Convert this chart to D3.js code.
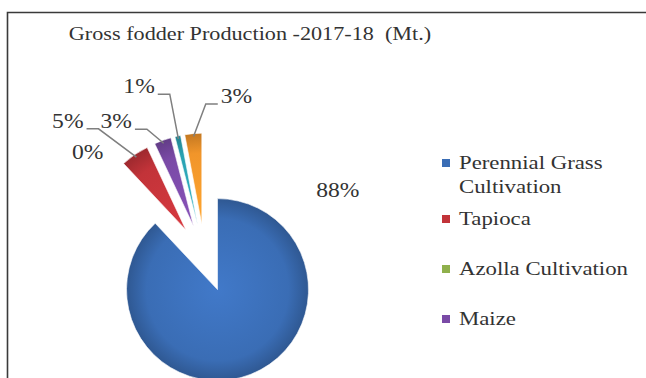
<!DOCTYPE html>
<html>
<head>
<meta charset="utf-8">
<script src="https://cdn.jsdelivr.net/npm/d3@7"></script>
<style>
  body { margin: 0; background: #fff; }
  svg { display: block; }
  text { font-family: "Liberation Serif", "Times New Roman", serif; fill: #333; white-space: pre; }
</style>
</head>
<body>
<div id="chart"></div>
<script>
// data
var categories = ["Perennial Grass Cultivation", "Tapioca", "Azolla Cultivation", "Maize", "Hydroponic Fodder", "Others"];
var shares = [88, 5, 0, 3, 1, 3];
var labelText = ["88%", "5%", "0%", "3%", "1%", "3%"];
var colors = ["#3a6db5", "#c23339", "#8fb04c", "#7a4aa6", "#2ba2b2", "#f1952a"];
var legendLines = [["Perennial Grass", "Cultivation"], ["Tapioca"], ["Azolla Cultivation"], ["Maize"]];

// label placement (Excel labels were dragged by hand): angle in degrees, distance from pie centre
var labelAngle = [63, 315, 312, 327, 339, 11];
var labelRadius = [149, 194, 158, 163, 184, 165];

var width = 646, height = 378,
    cx = 205, cy = 258,
    radius = 91, explode = 34,
    stretch = 1.2;

var svg = d3.select("#chart").append("svg")
    .attr("width", width)
    .attr("height", height);

var defs = svg.append("defs");

// frame (only top and left edges are inside the picture)
svg.append("path")
   .attr("d", "M7.5," + height + "V12.5H" + width)
   .attr("fill", "none")
   .attr("stroke", "#3a3a3a")
   .attr("stroke-width", 1.6);

function addText(g, str, x, y, size, anchor, sx){
  return g.append("text")
          .attr("transform", "translate(" + x + "," + y + ") scale(" + sx + ",1)")
          .attr("font-size", size)
          .attr("text-anchor", anchor || "start")
          .text(str);
}

// title
addText(svg, "Gross fodder Production -2017-18  (Mt.)", 250, 40, 18.5, "middle", stretch);

// pie
var pie = d3.pie().sort(null).value(function(d){ return d; });
var arc = d3.arc().innerRadius(0).outerRadius(radius);
var arcs = pie(shares);

function dir(a){ return [Math.sin(a), -Math.cos(a)]; }

arcs.forEach(function(a, i){
  var c = d3.color(colors[i]);
  var g = defs.append("radialGradient")
      .attr("id", "grad" + i)
      .attr("gradientUnits", "userSpaceOnUse")
      .attr("cx", 0).attr("cy", 0).attr("r", radius);
  g.append("stop").attr("offset", "0%").attr("stop-color", c.brighter(0.3));
  g.append("stop").attr("offset", "78%").attr("stop-color", c);
  g.append("stop").attr("offset", "100%").attr("stop-color", c.darker(0.6));
});

var slices = svg.append("g").selectAll("path")
    .data(arcs)
    .join("path")
    .attr("transform", function(d){
      var m = dir((d.startAngle + d.endAngle) / 2);
      return "translate(" + (cx + m[0] * explode) + "," + (cy + m[1] * explode) + ")";
    })
    .attr("d", arc)
    .attr("fill", function(d, i){ return "url(#grad" + i + ")"; })
    .attr("stroke", "#fff")
    .attr("stroke-width", 0.6);

// data labels and leader lines
var labelSize = 20.5, labelStretch = 1.15;
var labels = svg.append("g");
var leaders = svg.append("g");
arcs.forEach(function(d, i){
  var la = labelAngle[i] * Math.PI / 180,
      lx = cx + Math.sin(la) * labelRadius[i],
      ly = cy - Math.cos(la) * labelRadius[i];
  var t = addText(labels, labelText[i], lx, ly + 7, labelSize, "middle", labelStretch);
  var w = t.node().getBBox().width * labelStretch;

  if (d.data > 0 && d.data < 50) {
    var m = dir((d.startAngle + d.endAngle) / 2),
        ex = cx + m[0] * (explode + radius - 3),
        ey = cy + m[1] * (explode + radius - 3);
    var side = ex > lx ? 1 : -1,
        sx0 = lx + side * (w / 2 + 3),
        sy0 = ly + 8,
        sx1 = sx0 + side * 12;
    leaders.append("path")
      .attr("d", "M" + sx0 + "," + sy0 + "H" + sx1 + "L" + ex + "," + ey)
      .attr("fill", "none")
      .attr("stroke", "#7f7f7f")
      .attr("stroke-width", 1.5);
  }
});

// legend (only the first entries fit in the picture)
var legend = svg.append("g");
legendLines.forEach(function(lines, i){
  var base = 175 + 50 * i - (lines.length - 1) * 6;
  legend.append("rect")
    .attr("x", 442).attr("y", base - 10)
    .attr("width", 8).attr("height", 8)
    .attr("fill", colors[i]);
  lines.forEach(function(s, k){
    addText(legend, s, 459, base + k * 24, 19, "start", stretch);
  });
});
</script>
</body>
</html>
